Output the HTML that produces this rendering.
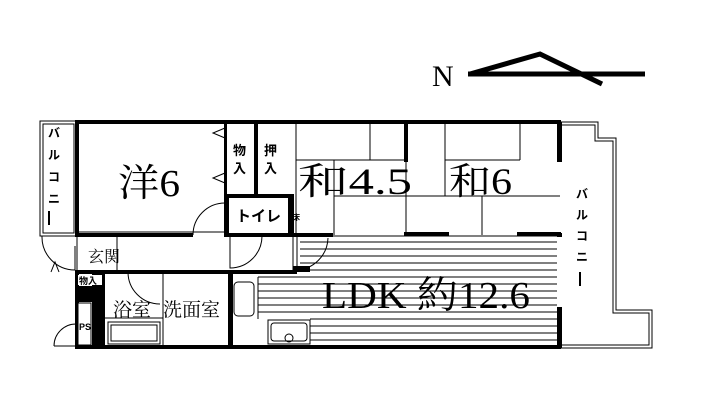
<!DOCTYPE html>
<html><head><meta charset="utf-8"><style>
html,body{margin:0;padding:0;background:#fff}
svg{display:block}
.j{font-family:"Liberation Serif","Noto Serif CJK SC",serif;fill:#000}
.s{font-family:"Liberation Sans","Noto Sans CJK JP",sans-serif;fill:#000;font-weight:bold}
</style></head><body>
<svg width="704" height="416" viewBox="0 0 704 416" xmlns="http://www.w3.org/2000/svg">
<rect width="704" height="416" fill="#fff"/>
<text x="432" y="86" class="j" font-size="30">N</text>
<g stroke="#000" stroke-width="5" fill="none" stroke-linecap="butt">
<polyline points="470,74 540,54 602,84"/>
<line x1="468" y1="74" x2="645" y2="74"/>
</g>
<g fill="none" stroke="#000" stroke-width="1">
<rect x="40" y="121" width="37" height="115"/>
<rect x="43" y="124" width="31" height="109"/>
<polyline points="561,122 598,122 598,138 616,138 616,310 652,310 652,348 561,348"/>
<polyline points="561,125 595,125 595,141 613,141 613,313 649,313 649,345 561,345"/>
</g>
<g stroke="#000" stroke-width="1">
<line x1="300" y1="242" x2="557" y2="242"/>
<line x1="300" y1="249" x2="557" y2="249"/>
<line x1="300" y1="256" x2="557" y2="256"/>
<line x1="300" y1="263" x2="557" y2="263"/>
<line x1="300" y1="270" x2="557" y2="270"/>
<line x1="258" y1="277" x2="557" y2="277"/>
<line x1="258" y1="284" x2="557" y2="284"/>
<line x1="258" y1="291" x2="557" y2="291"/>
<line x1="258" y1="298" x2="557" y2="298"/>
<line x1="258" y1="305" x2="557" y2="305"/>
<line x1="258" y1="312" x2="557" y2="312"/>
<line x1="310" y1="319" x2="557" y2="319"/>
<line x1="310" y1="326" x2="557" y2="326"/>
<line x1="310" y1="333" x2="557" y2="333"/>
<line x1="310" y1="340" x2="557" y2="340"/>
<line x1="258" y1="277" x2="258" y2="319"/>
<line x1="296" y1="160" x2="407" y2="160"/>
<line x1="334" y1="160" x2="334" y2="235"/>
<line x1="370" y1="124" x2="370" y2="160"/>
<line x1="334" y1="196" x2="560" y2="196"/>
<line x1="406" y1="124" x2="406" y2="235"/>
<line x1="445" y1="124" x2="445" y2="196"/>
<line x1="520" y1="124" x2="520" y2="160"/>
<line x1="445" y1="160" x2="520" y2="160"/>
<line x1="482" y1="196" x2="482" y2="235"/>
<line x1="296" y1="124" x2="296" y2="235"/>
<line x1="333" y1="236" x2="557" y2="236"/>
<line x1="77" y1="232" x2="225" y2="232"/>
<line x1="117" y1="236" x2="117" y2="272"/>
<line x1="77" y1="236" x2="77" y2="272"/>
<line x1="75" y1="246" x2="75" y2="270"/>
<line x1="293" y1="236" x2="293" y2="272"/>
<line x1="297" y1="236" x2="297" y2="272"/>
<line x1="163" y1="272" x2="163" y2="347"/>
<line x1="105" y1="318" x2="163" y2="318"/>
</g>
<g fill="none" stroke="#000" stroke-width="1">
<path d="M193,235 A32,32 0 0 1 225,203"/>
<path d="M42,236 A33,33 0 0 0 75,270"/>
<path d="M230,235 L230,268 A32,32 0 0 0 262,236"/>
<path d="M296,270 A33,33 0 0 0 328,238"/>
<path d="M128,272 A32,32 0 0 0 160,304"/>
<path d="M54,346 A22,22 0 0 1 76,324"/>
<path d="M54,346 L76,346"/>
<polyline points="225,128 213,133 225,138"/>
<polyline points="225,173 213,178 225,183"/>
<polyline points="51,272 55,262 59,272"/>
</g>
<g fill="none" stroke="#000" stroke-width="1">
<rect x="234" y="282" width="20" height="34" rx="4"/>
<rect x="108" y="322" width="52" height="22"/>
<rect x="111" y="325" width="46" height="16"/>
<rect x="268" y="320" width="42" height="24"/>
<rect x="271" y="323" width="36" height="18" rx="3"/>
<circle cx="289" cy="338" r="4"/>
</g>
<g fill="#000">
<rect x="75" y="120" width="486" height="4"/>
<rect x="75" y="120" width="4" height="117"/>
<rect x="77" y="233" width="116" height="4"/>
<rect x="225" y="233" width="108" height="4"/>
<rect x="75" y="270" width="222" height="4"/>
<rect x="75" y="345" width="486" height="4"/>
<rect x="75" y="270" width="4" height="77"/>
<rect x="75" y="300" width="18" height="2"/>
<rect x="92" y="270" width="13" height="77"/>
<rect x="77" y="286" width="26" height="14"/>
<rect x="228" y="272" width="5" height="75"/>
<rect x="224" y="122" width="3" height="75"/>
<rect x="254" y="122" width="4" height="75"/>
<rect x="224" y="194" width="69" height="4"/>
<rect x="224" y="194" width="5" height="43"/>
<rect x="288" y="194" width="6" height="43"/>
<rect x="404" y="122" width="4" height="40"/>
<rect x="404" y="232" width="45" height="4"/>
<rect x="517" y="232" width="44" height="4"/>
<rect x="557" y="122" width="5" height="40"/>
<rect x="557" y="233" width="5" height="4"/>
<rect x="557" y="307" width="5" height="41"/>
<rect x="293" y="266" width="17" height="6"/>
</g>
<rect x="78" y="275" width="24" height="10" fill="#fff"/>
<rect x="78" y="303" width="13" height="42" fill="#fff" stroke="#000" stroke-width="1"/>
<text x="118" y="196" class="j" font-size="38" textLength="62" lengthAdjust="spacingAndGlyphs">洋6</text>
<text x="298" y="194" class="j" font-size="37" textLength="114" lengthAdjust="spacingAndGlyphs">和4.5</text>
<text x="449" y="194" class="j" font-size="37" textLength="63" lengthAdjust="spacingAndGlyphs">和6</text>
<text x="322" y="308" class="j" font-size="38" textLength="208" lengthAdjust="spacingAndGlyphs">LDK 約12.6</text>
<text x="113" y="316" class="j" font-size="19">浴室</text>
<text x="163" y="316" class="j" font-size="19">洗面室</text>
<text x="88" y="262" class="j" font-size="16">玄関</text>
<text x="233" y="155" class="s" font-size="13">物</text>
<text x="233" y="173" class="s" font-size="13">入</text>
<text x="264" y="155" class="s" font-size="13">押</text>
<text x="264" y="173" class="s" font-size="13">入</text>
<text x="236" y="221" class="s" font-size="15">トイレ</text>
<text x="292" y="220" class="s" font-size="8">床</text>
<text x="79" y="284" class="s" font-size="9">物入</text>
<text x="79" y="330" class="s" font-size="9">PS</text>
<g class="s" font-size="12">
<text x="48" y="137">バ</text><text x="48" y="159">ル</text><text x="48" y="181">コ</text><text x="48" y="203">ニ</text>
<text x="576" y="198">バ</text><text x="576" y="219">ル</text><text x="576" y="240">コ</text><text x="576" y="261">ニ</text>
</g>
<rect x="48" y="211" width="2" height="14" fill="#000"/>
<rect x="579" y="272" width="2" height="14" fill="#000"/>
</svg>
</body></html>
